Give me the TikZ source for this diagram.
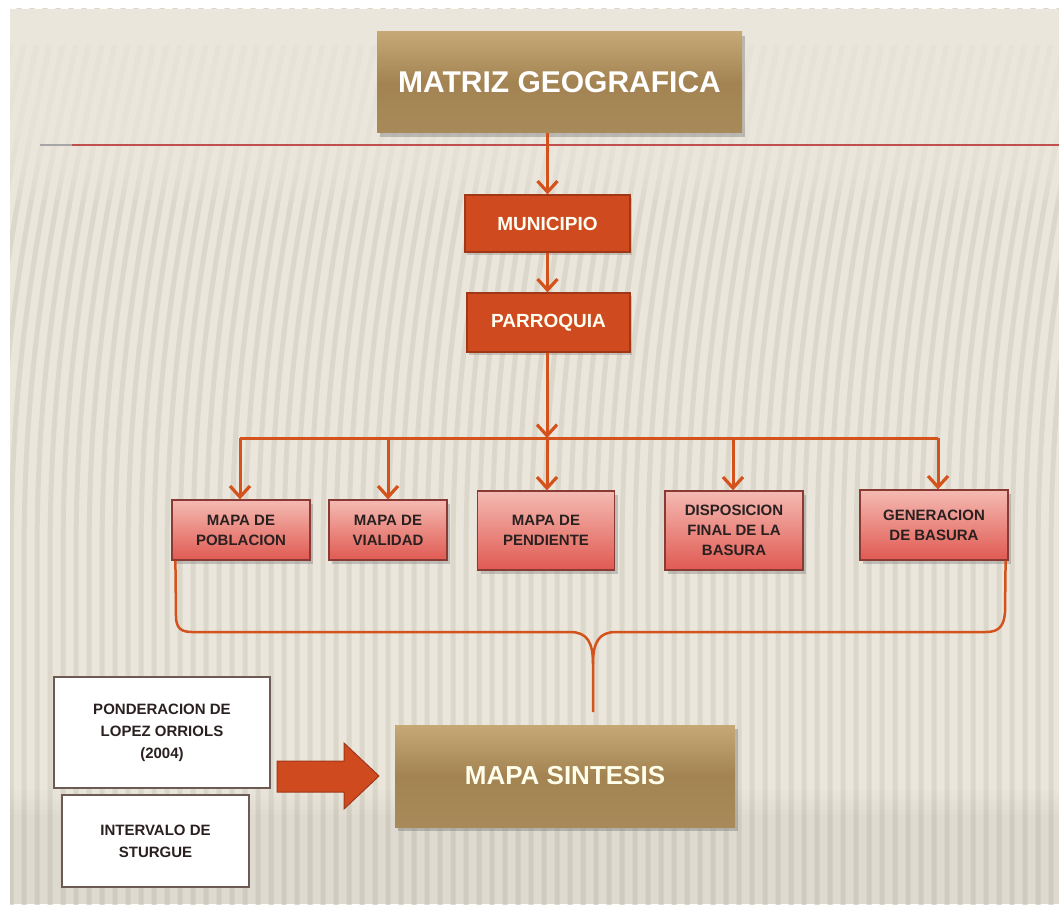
\documentclass[tikz,border=0pt]{standalone}
\usepackage{fontspec}
\setmainfont{Liberation Sans}
\usetikzlibrary{arrows.meta,shadows,calc}
\definecolor{bg}{HTML}{EAE6DC}
\definecolor{stripecol}{HTML}{DCD7CB}
\definecolor{flow}{HTML}{D4531C}
\definecolor{rule}{HTML}{C0504D}
\definecolor{tanTop}{HTML}{C6A877}
\definecolor{tanMid}{HTML}{A38352}
\definecolor{tanBot}{HTML}{A88A5A}
\definecolor{redFill}{HTML}{CF4A1F}
\definecolor{redLine}{HTML}{A03818}
\definecolor{pinkTop}{HTML}{F4BAB2}
\definecolor{pinkBot}{HTML}{E05A52}
\definecolor{pinkLine}{HTML}{8A3A34}
\definecolor{noteLine}{HTML}{6E5A55}
\definecolor{inkDark}{HTML}{2A2020}
\tikzset{
  stripe/.style={stripecol, line width=5pt},
  tanbox/.style={draw=none, top color=tanTop, bottom color=tanBot, middle color=tanMid,
    text=white, font=\bfseries, drop shadow={shadow xshift=3pt, shadow yshift=-4pt, opacity=0.45}},
  redbox/.style={draw=redLine, line width=1.2pt, fill=redFill, text=white!95!yellow,
    font=\fontsize{19}{22}\selectfont\bfseries,
    drop shadow={shadow xshift=2pt, shadow yshift=-3pt, opacity=0.35}},
  mapbox/.style={draw=pinkLine, line width=1.2pt, top color=pinkTop, bottom color=pinkBot,
    text=inkDark, align=center, font=\fontsize{15}{20}\selectfont\bfseries,
    drop shadow={shadow xshift=3pt, shadow yshift=-4pt, opacity=0.4}},
  notebox/.style={draw=noteLine, line width=2pt, fill=white, text=inkDark, align=center,
    font=\fontsize{15}{22}\selectfont\bfseries},
  conn/.style={flow, line width=3pt},
  connarrow/.style={conn, -{Straight Barb[length=11pt,width=20pt,line width=3.2pt]}},
  brace/.style={flow, line width=2.5pt},
}
\begin{document}
\begin{tikzpicture}[x=1pt,y=-1pt]
\useasboundingbox (0,0) rectangle (1059,904);
% page and striped backdrop
\fill[white] (0,0) rectangle (1059,904);
\fill[bg] (10,9) rectangle (1059,904);
\begin{scope}
  \clip (10,9) rectangle (1059,904);
  \foreach \x in {-80,-67,...,1100}
    \draw[stripe] (\x,910) -- (\x,560) .. controls (\x,400) and (\x+15,260) .. (\x+75,0);
  % stripes fade out towards the top edge
  \foreach \i in {0,...,15}
    \fill[bg, opacity=0.22] (10,9) rectangle (1059,200-\i*10);
  \fill[bg] (10,9) rectangle (1059,45);
  % slightly darker floor band
  \foreach \i in {0,...,5}
    \fill[black, opacity=0.008] (10,790+\i*5) rectangle (1059,904);
\end{scope}

% title bar and rule
\node[tanbox, minimum width=365pt, minimum height=101pt, font=\fontsize{30}{34}\selectfont\bfseries]
  (matriz) at (559.5,82.5) {MATRIZ GEOGRAFICA};
\coordinate (ruleL) at (40,145);
\coordinate (ruleM) at (72,145);
\coordinate (ruleR) at (1059,145);
\draw[gray!70, line width=1.5pt] (ruleL) -- (ruleM);
\draw[rule, line width=2pt] (ruleM) -- (ruleR);

% hierarchy
\node[redbox, minimum width=165pt, minimum height=57pt] (muni) at (547.5,223.5) {MUNICIPIO};
\node[redbox, minimum width=163pt, minimum height=59pt] (parr) at (548.5,322.5) {PARROQUIA};

\draw[connarrow] (matriz.south -| muni.north) -- (muni.north);
\draw[connarrow] (muni.south) -- (muni.south |- parr.north);

% map boxes
\node[mapbox, minimum width=138pt, minimum height=60pt] (pobl) at (241,530) {MAPA DE\\POBLACION};
\node[mapbox, minimum width=118pt, minimum height=60pt] (vial) at (388,530) {MAPA DE\\VIALIDAD};
\node[mapbox, minimum width=137pt, minimum height=79pt] (pend) at (546,530.5) {MAPA DE\\PENDIENTE};
\node[mapbox, minimum width=138pt, minimum height=79pt] (disp) at (734,530.5) {DISPOSICION\\FINAL DE LA\\BASURA};
\node[mapbox, minimum width=148pt, minimum height=70pt] (gene) at (934,525) {GENERACION\\DE BASURA};

% distribution bar
\coordinate (barL) at (240,438);
\coordinate (barR) at (938,438);
\coordinate (barM) at (547,438);
\coordinate (barD) at (733,438);
\draw[conn] (barL) -- (barR);
\draw[connarrow] (parr.south -| barM) -- (barM);
\draw[connarrow] (barL) -- (barL |- pobl.north);
\draw[connarrow] (vial.north |- barL) -- (vial.north);
\draw[connarrow] (barM) -- (barM |- pend.north);
\draw[connarrow] (barD) -- (barD |- disp.north);
\draw[connarrow] (barR) -- (barR |- gene.north);

% gathering brace
\coordinate (brL) at ($(pobl.south west)+(4,0)$);
\coordinate (brR) at ($(gene.south east)+(-3,0)$);
\coordinate (brTip) at (593,712);
\draw[brace] (brL) -- (176,616) .. controls (176,628) and (181,632) .. (192,632)
  -- (570,632) .. controls (587,632) and (593,642) .. (593,664) -- (brTip);
\draw[brace] (593,664) .. controls (593,642) and (599,632) .. (616,632)
  -- (986,632) .. controls (999,632) and (1004,626) .. (1005,612) -- (brR);

% synthesis
\node[tanbox, minimum width=340pt, minimum height=102pt, text=white!92!yellow,
  font=\fontsize{26}{30}\selectfont\bfseries] (sint) at (565,776) {MAPA SINTESIS};

\node[notebox, minimum width=216pt, minimum height=111pt] (pond) at (162,732.5)
  {PONDERACION DE\\LOPEZ ORRIOLS\\(2004)};
\node[notebox, minimum width=187pt, minimum height=92pt] (inter) at (155.5,841)
  {INTERVALO DE\\STURGUE};

% block arrow into the synthesis map
\fill[redFill, draw=redLine, line width=1pt]
  (277,761) -- (344,761) -- (344,743) -- (379,776) -- (344,809) -- (344,792) -- (277,792) -- cycle;
\end{tikzpicture}
\end{document}
